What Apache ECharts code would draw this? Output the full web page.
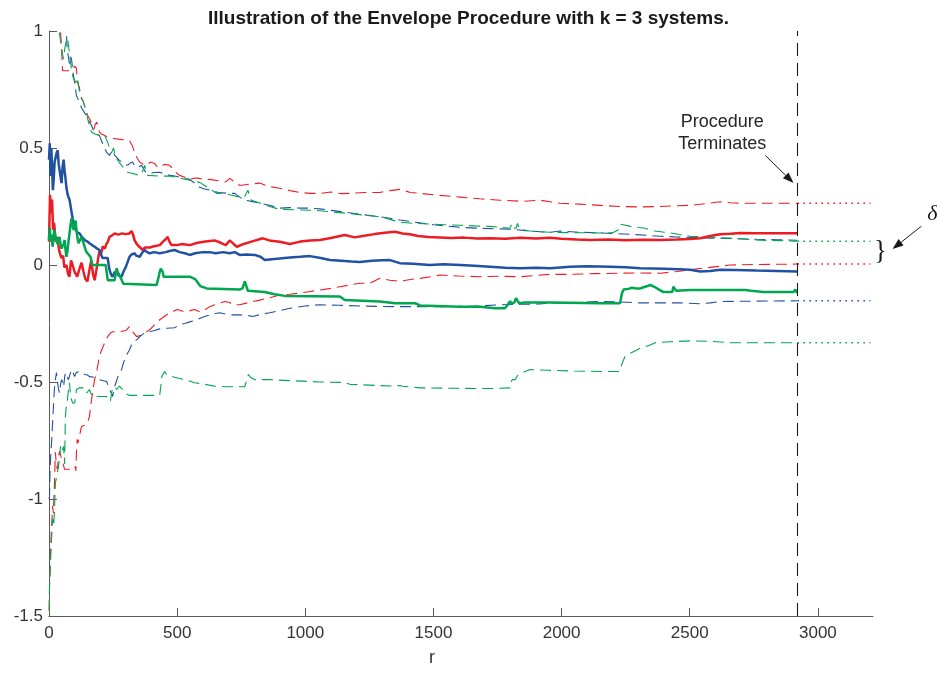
<!DOCTYPE html>
<html><head><meta charset="utf-8">
<script src="https://cdn.jsdelivr.net/npm/echarts@6/dist/echarts.min.js"></script>
<style>html,body{margin:0;padding:0;background:#fff}#c{width:937px;height:673px}</style>
</head><body><div id="c"></div>
<script>
const titleText = 'Illustration of the Envelope Procedure with k = 3 systems.';
const xAxisName = 'r';
const xTicks = [0, 500, 1000, 1500, 2000, 2500, 3000];
const yTicks = [-1.5, -1, -0.5, 0, 0.5, 1];
const xMin = 0, xMax = 3215, yMin = -1.5, yMax = 1;
const terminateR = 2920;
const extendR = 3205;

const redMean = [[0,0.10],[4,0.30],[8,0.22],[12,0.28],[16,0.15],[20,0.18],[26,0.10],[32,0.12],[40,0.06],[48,0.03],[55,0.04],[60,-0.01],[68,0.00],[75,-0.04],[80,-0.05],[86,0.02],[92,0.00],[100,-0.03],[110,-0.05],[118,-0.02],[127,0.01],[135,-0.03],[142,-0.06],[150,-0.07],[158,-0.02],[165,0.02],[172,-0.04],[178,-0.065],[185,-0.02],[192,0.03],[197,0.06],[204,0.05],[210,0.08],[218,0.07],[224,0.09],[230,0.10],[236,0.12],[244,0.125],[256,0.135],[270,0.13],[285,0.135],[300,0.132],[314,0.135],[322,0.145],[328,0.13],[334,0.105],[342,0.09],[350,0.08],[365,0.065],[375,0.075],[393,0.075],[410,0.08],[432,0.085],[445,0.10],[455,0.11],[463,0.12],[470,0.10],[478,0.085],[500,0.085],[520,0.09],[549,0.085],[580,0.095],[610,0.10],[646,0.105],[670,0.095],[690,0.085],[705,0.105],[720,0.09],[733,0.078],[760,0.09],[790,0.10],[834,0.114],[860,0.105],[900,0.099],[940,0.09],[980,0.10],[1020,0.105],[1057,0.107],[1100,0.115],[1154,0.128],[1193,0.118],[1230,0.125],[1270,0.132],[1310,0.138],[1350,0.142],[1380,0.135],[1408,0.131],[1440,0.124],[1480,0.12],[1525,0.118],[1570,0.115],[1620,0.117],[1670,0.113],[1720,0.114],[1780,0.112],[1840,0.116],[1900,0.113],[1955,0.116],[2000,0.112],[2060,0.109],[2111,0.107],[2180,0.109],[2250,0.106],[2320,0.108],[2385,0.107],[2450,0.109],[2500,0.111],[2541,0.114],[2570,0.122],[2600,0.128],[2619,0.131],[2660,0.134],[2697,0.137],[2750,0.136],[2820,0.136],[2920,0.136]];

const blueMean = [[0,0.45],[3,0.52],[6,0.38],[9,0.50],[12,0.42],[15,0.32],[18,0.36],[22,0.44],[26,0.46],[30,0.48],[34,0.49],[38,0.43],[42,0.40],[46,0.37],[49,0.35],[53,0.42],[57,0.45],[61,0.40],[64,0.375],[68,0.33],[72,0.305],[76,0.29],[80,0.28],[86,0.24],[92,0.20],[98,0.17],[104,0.15],[110,0.14],[119,0.135],[128,0.12],[139,0.107],[150,0.10],[158,0.093],[168,0.085],[178,0.078],[188,0.07],[197,0.064],[203,0.045],[209,0.03],[220,0.03],[229,0.03],[233,0.00],[236,-0.02],[242,-0.04],[248,-0.05],[256,-0.03],[264,-0.035],[272,-0.045],[283,-0.05],[290,-0.03],[299,-0.01],[306,0.01],[314,0.035],[322,0.045],[334,0.05],[340,0.04],[354,0.035],[362,0.05],[373,0.064],[383,0.055],[393,0.05],[410,0.055],[432,0.05],[455,0.055],[470,0.06],[490,0.064],[510,0.055],[530,0.05],[549,0.043],[570,0.05],[600,0.055],[627,0.055],[650,0.05],[680,0.055],[705,0.05],[725,0.055],[744,0.043],[770,0.045],[803,0.043],[825,0.035],[842,0.021],[870,0.025],[900,0.028],[940,0.032],[980,0.035],[1018,0.038],[1060,0.03],[1096,0.021],[1140,0.018],[1180,0.015],[1213,0.013],[1260,0.018],[1300,0.02],[1330,0.021],[1369,0.008],[1420,0.005],[1486,0.0],[1540,0.003],[1604,0.0],[1660,-0.003],[1721,-0.007],[1780,-0.012],[1838,-0.014],[1900,-0.012],[1955,-0.014],[2033,-0.007],[2100,-0.005],[2190,-0.007],[2250,-0.01],[2307,-0.014],[2400,-0.016],[2460,-0.018],[2502,-0.02],[2541,-0.028],[2580,-0.026],[2619,-0.02],[2680,-0.021],[2760,-0.024],[2840,-0.026],[2920,-0.028]];

const greenMean = [[0,0.106],[3,0.16],[7,0.10],[10,0.13],[14,0.078],[18,0.12],[21,0.15],[25,0.12],[29,0.106],[33,0.09],[37,0.11],[41,0.12],[45,0.09],[49,0.07],[53,0.064],[57,0.09],[61,0.106],[64,0.07],[68,0.035],[72,0.06],[76,0.10],[80,0.135],[84,0.17],[88,0.20],[92,0.17],[96,0.15],[100,0.17],[104,0.19],[108,0.14],[112,0.11],[115,0.093],[120,0.105],[127,0.12],[133,0.10],[139,0.078],[144,0.06],[150,0.05],[156,0.045],[162,0.035],[166,0.015],[170,0.0],[197,0.0],[221,0.0],[225,-0.03],[229,-0.065],[256,-0.065],[260,-0.04],[264,-0.014],[268,-0.03],[275,-0.043],[282,-0.06],[290,-0.08],[295,-0.085],[420,-0.085],[428,-0.05],[432,-0.03],[436,-0.015],[440,-0.008],[444,-0.03],[447,-0.05],[549,-0.05],[570,-0.06],[590,-0.09],[615,-0.1],[744,-0.105],[755,-0.10],[764,-0.07],[770,-0.09],[776,-0.11],[842,-0.115],[880,-0.125],[920,-0.132],[1135,-0.135],[1154,-0.15],[1291,-0.156],[1350,-0.163],[1428,-0.163],[1447,-0.173],[1604,-0.178],[1682,-0.178],[1740,-0.185],[1779,-0.185],[1790,-0.17],[1799,-0.155],[1805,-0.165],[1811,-0.17],[1816,-0.16],[1822,-0.142],[1828,-0.15],[1834,-0.163],[1857,-0.16],[1955,-0.16],[2150,-0.163],[2228,-0.163],[2232,-0.14],[2236,-0.12],[2242,-0.105],[2248,-0.1],[2260,-0.102],[2275,-0.097],[2290,-0.1],[2307,-0.1],[2320,-0.095],[2335,-0.09],[2346,-0.085],[2355,-0.09],[2365,-0.095],[2380,-0.105],[2396,-0.115],[2432,-0.115],[2436,-0.093],[2441,-0.1],[2447,-0.11],[2502,-0.107],[2717,-0.107],[2740,-0.11],[2787,-0.115],[2905,-0.115],[2912,-0.105],[2916,-0.115],[2920,-0.115]];

const redUpper = [[0,1.5],[25,1.15],[45,1.0],[50,0.9],[53,0.83],[88,0.83],[100,0.85],[107,0.84],[111,0.78],[118,0.76],[127,0.71],[133,0.70],[139,0.68],[145,0.66],[150,0.64],[158,0.626],[164,0.61],[170,0.596],[175,0.58],[180,0.60],[186,0.61],[192,0.59],[197,0.567],[205,0.56],[217,0.553],[235,0.545],[256,0.54],[290,0.535],[314,0.532],[325,0.51],[334,0.48],[345,0.455],[354,0.44],[368,0.43],[381,0.426],[395,0.44],[412,0.434],[422,0.42],[432,0.417],[450,0.43],[471,0.426],[483,0.41],[494,0.396],[510,0.383],[530,0.375],[549,0.366],[570,0.372],[588,0.37],[610,0.365],[627,0.366],[660,0.36],[690,0.355],[705,0.37],[725,0.355],[744,0.34],[780,0.345],[822,0.35],[860,0.335],[900,0.328],[940,0.318],[979,0.31],[1020,0.306],[1057,0.306],[1100,0.312],[1140,0.305],[1174,0.306],[1230,0.31],[1291,0.31],[1330,0.318],[1369,0.323],[1410,0.31],[1447,0.306],[1520,0.298],[1604,0.29],[1680,0.283],[1760,0.277],[1850,0.272],[1916,0.277],[1955,0.27],[1994,0.264],[2070,0.26],[2150,0.255],[2230,0.25],[2307,0.248],[2380,0.25],[2440,0.253],[2502,0.255],[2560,0.262],[2619,0.27],[2660,0.266],[2697,0.264],[2800,0.264],[2920,0.264]];

const blueUpper = [[0,1.7],[40,1.2],[68,0.99],[70,0.94],[74,0.90],[80,0.86],[84,0.89],[88,0.88],[94,0.82],[100,0.78],[104,0.75],[107,0.724],[113,0.71],[119,0.694],[128,0.67],[139,0.65],[145,0.64],[150,0.626],[158,0.61],[166,0.596],[172,0.58],[178,0.567],[186,0.56],[197,0.553],[205,0.53],[217,0.50],[226,0.48],[236,0.468],[242,0.48],[248,0.49],[256,0.47],[264,0.46],[272,0.45],[283,0.44],[295,0.43],[307,0.426],[316,0.435],[326,0.44],[334,0.425],[342,0.417],[352,0.42],[361,0.426],[375,0.40],[393,0.39],[410,0.395],[432,0.396],[450,0.39],[471,0.383],[490,0.38],[510,0.375],[530,0.37],[549,0.366],[568,0.35],[588,0.332],[607,0.325],[627,0.32],[660,0.31],[705,0.306],[725,0.306],[744,0.29],[764,0.277],[790,0.272],[822,0.264],[860,0.255],[900,0.243],[940,0.245],[979,0.243],[1018,0.243],[1057,0.24],[1096,0.234],[1140,0.228],[1193,0.22],[1240,0.213],[1291,0.206],[1330,0.2],[1369,0.192],[1410,0.186],[1447,0.18],[1500,0.172],[1565,0.165],[1620,0.16],[1682,0.157],[1740,0.155],[1799,0.153],[1860,0.147],[1916,0.142],[1955,0.14],[1994,0.145],[2070,0.14],[2150,0.137],[2210,0.134],[2268,0.131],[2330,0.127],[2385,0.123],[2440,0.12],[2502,0.118],[2580,0.115],[2660,0.113],[2760,0.11],[2840,0.108],[2920,0.106]];

const greenUpper = [[0,1.5],[25,1.1],[41,0.99],[46,0.95],[53,0.90],[57,0.88],[61,0.92],[64,0.94],[68,0.96],[72,0.97],[76,0.94],[80,0.90],[86,0.85],[92,0.81],[98,0.79],[104,0.78],[111,0.80],[115,0.77],[119,0.737],[127,0.715],[135,0.694],[141,0.67],[147,0.65],[152,0.62],[158,0.596],[166,0.567],[180,0.56],[197,0.553],[217,0.553],[223,0.54],[229,0.524],[236,0.50],[244,0.48],[248,0.49],[252,0.50],[258,0.47],[264,0.455],[273,0.44],[283,0.426],[295,0.41],[307,0.396],[330,0.39],[354,0.383],[365,0.40],[373,0.426],[379,0.40],[385,0.383],[430,0.38],[471,0.38],[510,0.372],[549,0.362],[588,0.353],[620,0.33],[654,0.306],[690,0.305],[713,0.298],[744,0.29],[765,0.295],[776,0.32],[783,0.295],[790,0.277],[822,0.265],[860,0.25],[900,0.238],[960,0.236],[1018,0.234],[1057,0.232],[1100,0.227],[1174,0.22],[1230,0.213],[1291,0.206],[1330,0.195],[1369,0.183],[1420,0.178],[1486,0.175],[1545,0.172],[1604,0.17],[1660,0.167],[1721,0.165],[1770,0.16],[1799,0.157],[1805,0.175],[1810,0.158],[1822,0.157],[1828,0.178],[1834,0.158],[1860,0.148],[1877,0.145],[1916,0.142],[1955,0.14],[2050,0.138],[2150,0.137],[2200,0.138],[2220,0.15],[2228,0.175],[2250,0.17],[2268,0.165],[2300,0.16],[2326,0.157],[2345,0.15],[2365,0.145],[2400,0.14],[2424,0.137],[2460,0.13],[2502,0.123],[2580,0.119],[2658,0.115],[2720,0.11],[2775,0.106],[2850,0.104],[2920,0.102]];

const redLower = [[0,-1.55],[2,-1.37],[6,-1.21],[10,-1.12],[14,-1.03],[17,-1.06],[21,-0.945],[25,-0.80],[29,-0.86],[33,-0.873],[37,-0.82],[41,-0.796],[45,-0.81],[49,-0.83],[55,-0.85],[61,-0.873],[75,-0.873],[90,-0.873],[100,-0.873],[103,-0.86],[105,-0.88],[107,-0.80],[110,-0.745],[113,-0.76],[119,-0.73],[127,-0.69],[138,-0.685],[150,-0.675],[158,-0.647],[163,-0.6],[166,-0.575],[172,-0.53],[178,-0.49],[186,-0.455],[192,-0.42],[197,-0.39],[203,-0.37],[209,-0.355],[218,-0.33],[229,-0.306],[240,-0.29],[248,-0.285],[275,-0.285],[300,-0.28],[314,-0.263],[326,-0.285],[342,-0.306],[360,-0.3],[373,-0.29],[393,-0.277],[412,-0.255],[432,-0.234],[450,-0.22],[471,-0.204],[490,-0.195],[502,-0.19],[529,-0.2],[550,-0.195],[568,-0.19],[588,-0.2],[610,-0.19],[627,-0.178],[660,-0.165],[686,-0.156],[705,-0.16],[717,-0.17],[744,-0.17],[780,-0.16],[822,-0.15],[860,-0.14],[900,-0.128],[940,-0.125],[979,-0.12],[1020,-0.113],[1057,-0.107],[1100,-0.1],[1135,-0.093],[1175,-0.085],[1213,-0.078],[1252,-0.078],[1291,-0.057],[1330,-0.065],[1369,-0.07],[1410,-0.062],[1447,-0.057],[1490,-0.05],[1525,-0.043],[1600,-0.047],[1682,-0.05],[1760,-0.048],[1838,-0.05],[1900,-0.045],[1955,-0.04],[2033,-0.04],[2130,-0.037],[2228,-0.035],[2300,-0.034],[2385,-0.035],[2450,-0.028],[2502,-0.02],[2540,-0.015],[2580,-0.01],[2620,-0.005],[2658,0.0],[2750,0.002],[2920,0.004]];

const blueLower = [[0,-1.0],[2,-0.99],[4,-0.886],[6,-0.83],[8,-0.79],[10,-0.76],[14,-0.675],[18,-0.59],[21,-0.53],[25,-0.49],[29,-0.46],[33,-0.50],[37,-0.53],[41,-0.547],[45,-0.51],[49,-0.49],[53,-0.50],[57,-0.52],[61,-0.48],[64,-0.46],[68,-0.47],[72,-0.48],[76,-0.49],[80,-0.49],[84,-0.46],[88,-0.447],[94,-0.46],[100,-0.477],[106,-0.46],[112,-0.455],[119,-0.455],[126,-0.46],[139,-0.468],[150,-0.47],[158,-0.477],[178,-0.48],[197,-0.49],[225,-0.498],[236,-0.532],[244,-0.55],[248,-0.562],[256,-0.52],[262,-0.50],[268,-0.48],[275,-0.46],[283,-0.447],[290,-0.42],[295,-0.405],[305,-0.38],[314,-0.362],[326,-0.332],[334,-0.325],[342,-0.32],[354,-0.306],[373,-0.29],[393,-0.285],[412,-0.28],[432,-0.273],[460,-0.27],[490,-0.268],[510,-0.255],[530,-0.25],[549,-0.243],[575,-0.235],[607,-0.22],[640,-0.21],[666,-0.204],[690,-0.21],[717,-0.213],[744,-0.213],[770,-0.215],[795,-0.22],[830,-0.21],[861,-0.204],[900,-0.195],[940,-0.185],[1000,-0.175],[1057,-0.17],[1130,-0.172],[1213,-0.175],[1290,-0.177],[1369,-0.178],[1450,-0.178],[1525,-0.178],[1600,-0.177],[1682,-0.175],[1760,-0.17],[1840,-0.168],[1916,-0.166],[1955,-0.162],[1994,-0.162],[2070,-0.16],[2150,-0.156],[2230,-0.158],[2307,-0.162],[2385,-0.162],[2463,-0.162],[2541,-0.166],[2580,-0.162],[2619,-0.156],[2700,-0.155],[2800,-0.154],[2920,-0.153]];

const greenLower = [[0,-1.55],[2,-1.38],[6,-1.27],[10,-1.17],[14,-1.085],[18,-1.115],[21,-1.06],[25,-0.93],[29,-0.91],[33,-0.886],[37,-0.86],[41,-0.83],[45,-0.775],[49,-0.8],[53,-0.79],[57,-0.775],[61,-0.85],[62,-0.775],[64,-0.647],[68,-0.6],[72,-0.575],[76,-0.532],[80,-0.503],[84,-0.562],[88,-0.575],[92,-0.59],[100,-0.59],[104,-0.56],[107,-0.532],[119,-0.525],[139,-0.525],[147,-0.547],[158,-0.532],[164,-0.55],[170,-0.562],[225,-0.562],[229,-0.58],[240,-0.58],[244,-0.55],[248,-0.525],[256,-0.52],[264,-0.532],[275,-0.518],[285,-0.53],[295,-0.547],[314,-0.557],[432,-0.557],[436,-0.52],[440,-0.477],[451,-0.455],[460,-0.47],[490,-0.48],[530,-0.49],[568,-0.503],[610,-0.51],[646,-0.518],[690,-0.52],[764,-0.52],[772,-0.49],[778,-0.468],[786,-0.48],[803,-0.49],[861,-0.49],[960,-0.495],[1057,-0.5],[1154,-0.502],[1174,-0.51],[1350,-0.518],[1369,-0.515],[1380,-0.518],[1447,-0.525],[1600,-0.527],[1721,-0.528],[1799,-0.525],[1803,-0.5],[1807,-0.49],[1818,-0.49],[1830,-0.47],[1857,-0.455],[1877,-0.447],[1950,-0.45],[2050,-0.453],[2150,-0.455],[2228,-0.455],[2236,-0.42],[2248,-0.39],[2268,-0.377],[2290,-0.365],[2307,-0.355],[2338,-0.345],[2350,-0.34],[2365,-0.332],[2424,-0.328],[2502,-0.324],[2580,-0.326],[2658,-0.332],[2780,-0.332],[2920,-0.332]];

// final bound levels carried on past termination (dotted)
const extRedUpper = [[terminateR, 0.264], [extendR, 0.264]];
const extGreenUpper = [[terminateR, 0.102], [extendR, 0.102]];
const extRedLower = [[terminateR, 0.004], [extendR, 0.004]];
const extBlueLower = [[terminateR, -0.153], [extendR, -0.153]];
const extGreenLower = [[terminateR, -0.332], [extendR, -0.332]];

const RED = '#ed1c24', BLUE = '#2151a1', GREEN = '#00a650';
const AXIS = '#5a5a5a', TEXT = '#333333';

function mkLine(data, color, width, type, z) {
  return { type: 'line', data: data, symbol: 'none', showSymbol: false, silent: true,
    animation: false, z: z, clip: true,
    lineStyle: { color: color, width: width, type: type }, itemStyle: { color: color } };
}
const DASH = [11, 6], DOT = [1.6, 4.4];

const series = [
  mkLine(redUpper, RED, 1.1, DASH, 2),
  mkLine(blueUpper, BLUE, 1.1, DASH, 2),
  mkLine(greenUpper, GREEN, 1.1, DASH, 2),
  mkLine(redLower, RED, 1.1, DASH, 2),
  mkLine(blueLower, BLUE, 1.1, DASH, 2),
  mkLine(greenLower, GREEN, 1.1, DASH, 2),
  mkLine(extRedUpper, RED, 1.5, DOT, 2),
  mkLine(extGreenUpper, GREEN, 1.5, DOT, 2),
  mkLine(extRedLower, RED, 1.5, DOT, 2),
  mkLine(extBlueLower, BLUE, 1.5, DOT, 2),
  mkLine(extGreenLower, GREEN, 1.5, DOT, 2),
  mkLine(redMean, RED, 2.5, 'solid', 3),
  mkLine(blueMean, BLUE, 2.5, 'solid', 3),
  mkLine(greenMean, GREEN, 2.5, 'solid', 3)
];
series[0].markLine = {
  silent: true, symbol: ['none', 'none'], label: { show: false }, animation: false,
  lineStyle: { color: '#1a1a1a', width: 1.1, type: [13, 7] },
  data: [{ xAxis: terminateR }]
};

const chart = echarts.init(document.getElementById('c'), null, { renderer: 'canvas' });
chart.setOption({
  animation: false,
  backgroundColor: '#ffffff',
  title: { text: titleText, left: 'center', top: 4,
    textStyle: { fontFamily: 'Liberation Sans', fontWeight: 'bold', fontSize: 19, color: '#1a1a1a' } },
  grid: { left: 49, right: 64, top: 31, bottom: 57 },
  xAxis: {
    type: 'value', min: xMin, max: xMax, interval: 500,
    name: xAxisName, nameLocation: 'middle', nameGap: 33,
    nameTextStyle: { fontFamily: 'Liberation Sans', fontSize: 18, color: TEXT, padding: [0, 58, 0, 0] },
    axisLine: { show: true, onZero: false, lineStyle: { color: AXIS, width: 1 } },
    axisTick: { show: true, inside: true, length: 8, lineStyle: { color: AXIS }, customValues: xTicks },
    axisLabel: { fontFamily: 'Liberation Sans', fontSize: 17, color: TEXT, margin: 9, customValues: xTicks,
      formatter: function (v) { return String(v); } },
    splitLine: { show: false }
  },
  yAxis: {
    type: 'value', min: yMin, max: yMax, interval: 0.5,
    axisLine: { show: true, onZero: false, lineStyle: { color: AXIS, width: 1 } },
    axisTick: { show: true, inside: true, length: 8, lineStyle: { color: AXIS }, customValues: yTicks },
    axisLabel: { fontFamily: 'Liberation Sans', fontSize: 17, color: TEXT, margin: 6, customValues: yTicks,
      formatter: function (v) { return String(v); } },
    splitLine: { show: false }
  },
  series: series
});

// annotations, anchored in data space
const annText = ['Procedure', 'Terminates'];
function px(p) { return chart.convertToPixel({ gridIndex: 0 }, p); }
function arrow(a, b, col) {
  const dx = b[0] - a[0], dy = b[1] - a[1], L = Math.hypot(dx, dy);
  const ux = dx / L, uy = dy / L, hl = 11, hw = 4;
  const bx = b[0] - ux * hl, by = b[1] - uy * hl;
  return [
    { type: 'line', silent: true, shape: { x1: a[0], y1: a[1], x2: bx, y2: by }, style: { stroke: col, lineWidth: 1 } },
    { type: 'polygon', silent: true, shape: { points: [[b[0], b[1]], [bx - uy * hw, by + ux * hw], [bx + uy * hw, by - ux * hw]] }, style: { fill: col } }
  ];
}
const tPos = px([2627, 0.566]);
const a1s = px([2795, 0.468]), a1e = px([2905, 0.35]);
const bracePos = px([3244, 0.055]);
const deltaPos = px([3447, 0.215]);
const a2s = px([3404, 0.166]), a2e = px([3291, 0.068]);
chart.setOption({
  graphic: [
    { type: 'text', silent: true, x: tPos[0], y: tPos[1],
      style: { text: annText.join('\n'), font: '18px "Liberation Sans"', fill: '#262626', align: 'center', verticalAlign: 'middle', lineHeight: 22 } },
    ...arrow(a1s, a1e, '#1a1a1a'),
    { type: 'text', silent: true, x: bracePos[0], y: bracePos[1],
      style: { text: '}', font: '27px "Liberation Serif"', fill: '#1a1a1a', align: 'center', verticalAlign: 'middle' } },
    { type: 'text', silent: true, x: deltaPos[0], y: deltaPos[1],
      style: { text: 'δ', font: 'italic 22px "Liberation Serif"', fill: '#1a1a1a', align: 'center', verticalAlign: 'middle' } },
    ...arrow(a2s, a2e, '#1a1a1a')
  ]
});
</script>
</body></html>
